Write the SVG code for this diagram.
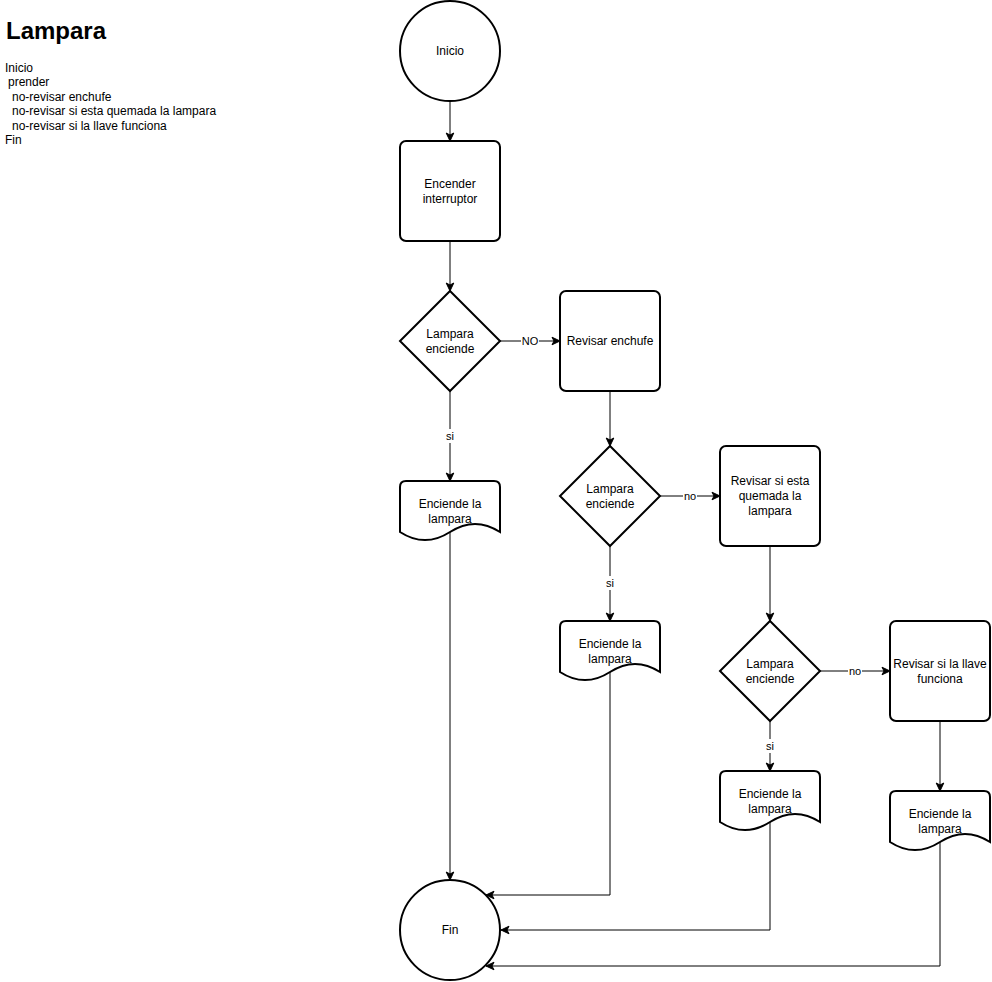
<svg xmlns="http://www.w3.org/2000/svg" width="992" height="982" viewBox="0 0 992 982">
  <style>
    .shape { fill: #ffffff; stroke: #000000; stroke-width: 2; }
    .edge { fill: none; stroke: #000000; stroke-width: 1; }
    .lbl { font-family: "Liberation Sans", Arial, sans-serif; font-size: 12px; fill: #000000; text-anchor: middle; dominant-baseline: central; }
    .elbl { font-family: "Liberation Sans", Arial, sans-serif; font-size: 11px; fill: #000000; text-anchor: middle; dominant-baseline: central; }
    .note { font-family: "Liberation Sans", Arial, sans-serif; font-size: 12px; fill: #000000; }
    .title { font-family: "Liberation Sans", Arial, sans-serif; font-size: 24px; font-weight: bold; fill: #000000; }
  </style>
  <defs>
    <marker id="arrow" markerUnits="userSpaceOnUse" markerWidth="10" markerHeight="10" viewBox="0 0 10 10" refX="9" refY="5" orient="auto">
      <path d="M1,1.2 L9,5 L1,8.8 L3,5 Z" fill="#000000" stroke="#000000" stroke-width="1"/>
    </marker>
    <!-- document shape, 100x60, rounded top, wavy bottom -->
    <path id="doc" d="M0,6 Q0,0 6,0 L94,0 Q100,0 100,6 L100,51 Q75,34.8 50,51 Q25,67.2 0,51 Z"/>
  </defs>

  <!-- side notes -->
  <g id="notes">
    <text class="title" x="6" y="39">Lampara</text>
    <text class="note" x="5" y="72">Inicio</text>
    <text class="note" x="8" y="86">prender</text>
    <text class="note" x="12" y="101">no-revisar enchufe</text>
    <text class="note" x="12" y="115">no-revisar si esta quemada la lampara</text>
    <text class="note" x="12" y="130">no-revisar si la llave funciona</text>
    <text class="note" x="5" y="144">Fin</text>
  </g>

  <!-- connectors -->
  <g id="edges">
    <path class="edge" d="M450,101 L450,141" marker-end="url(#arrow)"/>
    <path class="edge" d="M450,241 L450,291" marker-end="url(#arrow)"/>
    <path class="edge" d="M500,341 L560,341" marker-end="url(#arrow)"/>
    <path class="edge" d="M450,391 L450,481" marker-end="url(#arrow)"/>
    <path class="edge" d="M450,532 L450,880" marker-end="url(#arrow)"/>
    <path class="edge" d="M610,391 L610,446" marker-end="url(#arrow)"/>
    <path class="edge" d="M660,496 L720,496" marker-end="url(#arrow)"/>
    <path class="edge" d="M610,546 L610,621" marker-end="url(#arrow)"/>
    <path class="edge" d="M610,672 L610,895 L486,895" marker-end="url(#arrow)"/>
    <path class="edge" d="M770,546 L770,621" marker-end="url(#arrow)"/>
    <path class="edge" d="M820,671 L890,671" marker-end="url(#arrow)"/>
    <path class="edge" d="M770,721 L770,771" marker-end="url(#arrow)"/>
    <path class="edge" d="M770,822 L770,930 L501,930" marker-end="url(#arrow)"/>
    <path class="edge" d="M940,721 L940,791" marker-end="url(#arrow)"/>
    <path class="edge" d="M940,842 L940,966 L486,966" marker-end="url(#arrow)"/>
    <!-- edge labels -->
    <rect x="521" y="334" width="18" height="14" fill="#ffffff"/>
    <text class="elbl" x="530" y="341">NO</text>
    <rect x="445" y="429" width="10" height="14" fill="#ffffff"/>
    <text class="elbl" x="450" y="436">si</text>
    <rect x="683" y="489" width="14" height="14" fill="#ffffff"/>
    <text class="elbl" x="690" y="496">no</text>
    <rect x="605" y="576" width="10" height="14" fill="#ffffff"/>
    <text class="elbl" x="610" y="583">si</text>
    <rect x="848" y="664" width="14" height="14" fill="#ffffff"/>
    <text class="elbl" x="855" y="671">no</text>
    <rect x="765" y="739" width="10" height="14" fill="#ffffff"/>
    <text class="elbl" x="770" y="746">si</text>
  </g>

  <g id="inicio">
    <circle class="shape" cx="450" cy="51" r="50"/>
    <text class="lbl" x="450" y="51">Inicio</text>
  </g>

  <g id="encender">
    <rect class="shape" x="400" y="141" width="100" height="100" rx="6"/>
    <text class="lbl" x="450" y="184">Encender</text>
    <text class="lbl" x="450" y="199">interruptor</text>
  </g>

  <g id="decision1">
    <path class="shape" d="M450,291 L500,341 L450,391 L400,341 Z"/>
    <text class="lbl" x="450" y="334">Lampara</text>
    <text class="lbl" x="450" y="349">enciende</text>
  </g>

  <g id="revisar-enchufe">
    <rect class="shape" x="560" y="291" width="100" height="100" rx="6"/>
    <text class="lbl" x="610" y="341">Revisar enchufe</text>
  </g>

  <g id="enciende1">
    <use href="#doc" class="shape" x="400" y="481"/>
    <text class="lbl" x="450" y="504">Enciende la</text>
    <text class="lbl" x="450" y="519">lampara</text>
  </g>

  <g id="decision2">
    <path class="shape" d="M610,446 L660,496 L610,546 L560,496 Z"/>
    <text class="lbl" x="610" y="489">Lampara</text>
    <text class="lbl" x="610" y="504">enciende</text>
  </g>

  <g id="revisar-quemada">
    <rect class="shape" x="720" y="446" width="100" height="100" rx="6"/>
    <text class="lbl" x="770" y="481">Revisar si esta</text>
    <text class="lbl" x="770" y="496">quemada la</text>
    <text class="lbl" x="770" y="511">lampara</text>
  </g>

  <g id="enciende2">
    <use href="#doc" class="shape" x="560" y="621"/>
    <text class="lbl" x="610" y="644">Enciende la</text>
    <text class="lbl" x="610" y="659">lampara</text>
  </g>

  <g id="decision3">
    <path class="shape" d="M770,621 L820,671 L770,721 L720,671 Z"/>
    <text class="lbl" x="770" y="664">Lampara</text>
    <text class="lbl" x="770" y="679">enciende</text>
  </g>

  <g id="revisar-llave">
    <rect class="shape" x="890" y="621" width="100" height="100" rx="6"/>
    <text class="lbl" x="940" y="664">Revisar si la llave</text>
    <text class="lbl" x="940" y="679">funciona</text>
  </g>

  <g id="enciende3">
    <use href="#doc" class="shape" x="720" y="771"/>
    <text class="lbl" x="770" y="794">Enciende la</text>
    <text class="lbl" x="770" y="809">lampara</text>
  </g>

  <g id="enciende4">
    <use href="#doc" class="shape" x="890" y="791"/>
    <text class="lbl" x="940" y="814">Enciende la</text>
    <text class="lbl" x="940" y="829">lampara</text>
  </g>

  <g id="fin">
    <circle class="shape" cx="450" cy="930" r="50"/>
    <text class="lbl" x="450" y="930">Fin</text>
  </g>
</svg>
